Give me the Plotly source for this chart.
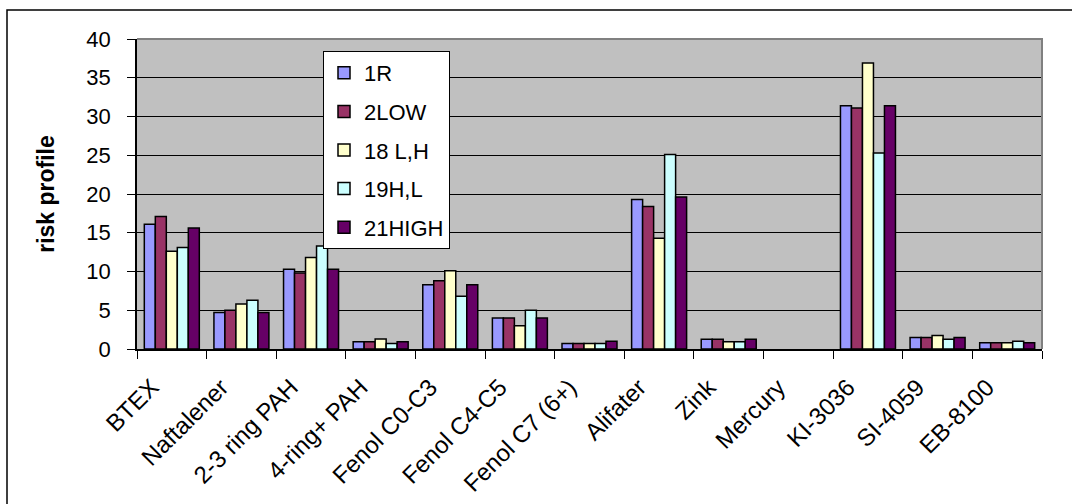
import plotly.graph_objects as go

categories = ["BTEX", "Naftalener", "2-3 ring PAH", "4-ring+ PAH", "Fenol C0-C3",
              "Fenol C4-C5", "Fenol C7 (6+)", "Alifater", "Zink", "Mercury",
              "KI-3036", "SI-4059", "EB-8100"]

s_1R = [16.1, 4.7, 10.3, 0.95, 8.3, 4.0, 0.7, 19.3, 1.25, 0, 31.4, 1.5, 0.8]
s_2LOW = [17.1, 5.0, 9.8, 0.95, 8.8, 4.0, 0.7, 18.4, 1.25, 0, 31.1, 1.5, 0.8]
s_18LH = [12.6, 5.8, 11.8, 1.3, 10.1, 3.0, 0.7, 14.3, 0.95, 0, 36.9, 1.75, 0.8]
s_19HL = [13.1, 6.3, 13.3, 0.7, 6.8, 5.0, 0.7, 25.1, 0.95, 0, 25.3, 1.25, 1.0]
s_21HIGH = [15.6, 4.7, 10.3, 0.95, 8.3, 4.0, 1.0, 19.6, 1.25, 0, 31.4, 1.5, 0.8]

series_names = ["1R", "2LOW", "18 L,H", "19H,L", "21HIGH"]
series_vals = [s_1R, s_2LOW, s_18LH, s_19HL, s_21HIGH]
colors = ["#9999FF", "#993366", "#FFFFCC", "#CCFFFF", "#660066"]

y_ticks = [0, 5, 10, 15, 20, 25, 30, 35, 40]

FONT = "Liberation Sans, Arial, sans-serif"

fig = go.Figure()
for i, (name, vals, col) in enumerate(zip(series_names, series_vals, colors)):
    # no outline drawn for zero-height bars (as in the original chart)
    line_widths = [1.5 if v > 0 else 0 for v in vals]
    fig.add_trace(go.Bar(
        x=categories, y=vals, name=name, legendgroup=f"g{i}",
        marker=dict(color=col, line=dict(color="black", width=line_widths)),
    ))

# plot area in pixels: left 137, right 1042, top 39, bottom 349
L, R, T, B = 137, 1042, 39, 349
W, H = R - L, B - T

def px_x(p):
    return (p - L) / W

def px_y(p):
    return (B - p) / H

shapes = [
    # outer chart border (clipped on right and bottom)
    dict(type="rect", xref="paper", yref="paper",
         x0=px_x(7), x1=px_x(1080), y0=px_y(515), y1=px_y(10),
         line=dict(color="black", width=1.5), fillcolor="rgba(0,0,0,0)", layer="below"),
    # gray top / right border of plot area
    dict(type="path", xref="paper", yref="paper",
         path="M 0,1 L 1,1 L 1,0",
         line=dict(color="#808080", width=2), layer="above"),
]

fig.update_layout(
    width=1072, height=504,
    margin=dict(l=L, r=1072 - R, t=T, b=504 - B),
    paper_bgcolor="white", plot_bgcolor="#C0C0C0",
    barmode="group", bargap=0.21, bargroupgap=0,
    font=dict(family=FONT, size=20, color="black"),
    shapes=shapes,
    showlegend=True,
    legend=dict(
        x=px_x(323), y=px_y(51), xanchor="left", yanchor="top",
        bgcolor="white", bordercolor="black", borderwidth=1,
        font=dict(family=FONT, size=22, color="black"),
        tracegroupgap=7, itemwidth=30, traceorder="grouped",
    ),
    xaxis=dict(
        type="category", tickson="boundaries", ticks="outside", ticklen=8,
        tickcolor="black", tickwidth=1,
        showline=True, linecolor="black", linewidth=1.5,
        tickangle=-45, tickfont=dict(family=FONT, size=24),
        ticklabelshift=-20, ticklabelstandoff=13,
        showgrid=False, automargin=False,
    ),
    yaxis=dict(
        range=[0, 40], tickvals=y_ticks, ticks="outside", ticklen=8,
        tickcolor="black", tickwidth=1,
        showline=True, linecolor="black", linewidth=1.5,
        showgrid=True, gridcolor="black", gridwidth=1,
        zeroline=False, tickfont=dict(family=FONT, size=22),
        ticklabelstandoff=12,
        title=dict(text="<b>risk profile</b>", font=dict(family=FONT, size=23), standoff=25),
        automargin=False,
    ),
)

fig.write_html("out.html")
